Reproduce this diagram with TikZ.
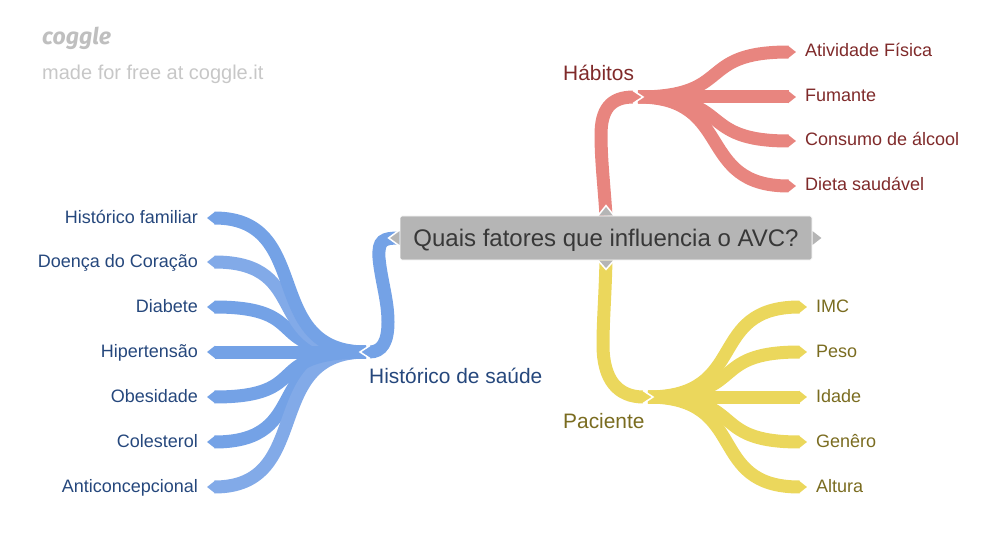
\documentclass[tikz,border=0pt]{standalone}
\usepackage{fontspec}
\setmainfont{Liberation Sans}
\newfontfamily\logofont{Fira Sans}
\usetikzlibrary{arrows.meta}
\usetikzlibrary{backgrounds}
\definecolor{azul}{HTML}{74A2E6}
\definecolor{azulC}{HTML}{82AAE8}
\definecolor{verm}{HTML}{E8857F}
\definecolor{amar}{HTML}{EBD75C}
\definecolor{azulT}{HTML}{25477C}
\definecolor{vermT}{HTML}{7F2A2A}
\definecolor{amarT}{HTML}{7A6C20}
\begin{document}
\begin{tikzpicture}[x=1pt,y=-1pt,
ramo/.style={line width=13pt,-{Triangle[width=12pt,length=8pt]}},
seta/.style={white,line width=1.5pt},
central/.style={fill=black!29,draw=white,line width=0.8pt,rounded corners=1.5pt,minimum width=412pt,minimum height=44pt,text=black!78,font=\fontsize{24}{28}\selectfont,inner sep=0pt,text height=20pt,text depth=4pt},
ponta/.style={fill=black!29,draw=white,line width=1.5pt},
titulo/.style={font=\fontsize{20.9}{24}\selectfont,inner sep=0pt},
folhaE/.style={text=azulT,font=\fontsize{18}{20}\selectfont,anchor=east,inner ysep=0pt,inner xsep=0pt,outer xsep=9pt,text height=13pt,text depth=3pt},
folhaD/.style={font=\fontsize{18}{20}\selectfont,anchor=west,inner ysep=0pt,inner xsep=0pt,outer xsep=9pt,text height=13pt,text depth=3pt}
]
\useasboundingbox (0,0) rectangle (1000,545);
%-- logo
\node[anchor=west,inner sep=0pt,text=black!25,font=\logofont\itshape\bfseries\fontsize{23}{28}\selectfont] (logo) at (42,38){coggle};
\node[anchor=west,inner sep=0pt,text=black!22,font=\fontsize{20}{24}\selectfont] (free) at (42,74){made for free at coggle.it};
%-- centro
\node[central] (qc) at (606,238){Quais fatores que influencia o AVC?};
\coordinate (hubS) at (366,352);
\coordinate (hubH) at (638,97);
\coordinate (hubP) at (648,397);
\coordinate (pontaS) at (362,352);
\coordinate (pontaH) at (641,97);
\coordinate (pontaP) at (651,397);
%-- historico de saude
\node[titulo,text=azulT,anchor=west] (hs) at (369,376){Histórico de saúde};
\node[folhaE] (hf) at (207,218){Histórico familiar};
\node[folhaE] (dc) at (207,262){Doença do Coração};
\node[folhaE] (di) at (207,307){Diabete};
\node[folhaE] (hi) at (207,352){Hipertensão};
\node[folhaE] (ob) at (207,397){Obesidade};
\node[folhaE] (co) at (207,442){Colesterol};
\node[folhaE] (an) at (207,487){Anticoncepcional};
%-- habitos
\node[titulo,text=vermT,anchor=west] (hb) at (563,73){Hábitos};
\node[folhaD,text=vermT] (af) at (796,52){Atividade Física};
\node[folhaD,text=vermT] (fu) at (796,97){Fumante};
\node[folhaD,text=vermT] (ca) at (796,141){Consumo de álcool};
\node[folhaD,text=vermT] (ds) at (796,186){Dieta saudável};
%-- paciente
\node[titulo,text=amarT,anchor=west] (pa) at (563,421){Paciente};
\node[folhaD,text=amarT] (im) at (807,307){IMC};
\node[folhaD,text=amarT] (pe) at (807,352){Peso};
\node[folhaD,text=amarT] (id) at (807,397){Idade};
\node[folhaD,text=amarT] (ge) at (807,442){Genêro};
\node[folhaD,text=amarT] (al) at (807,487){Altura};
\begin{scope}[on background layer]
%--
\draw[ramo,azul] (hubS) .. controls (260,352) and (315,442) .. (co.east);
\draw[ramo,azulC] (hubS) .. controls (260,352) and (315,487) .. (an.east);
\draw[ramo,azul] (hubS) .. controls (260,352) and (315,397) .. (ob.east);
\draw[ramo,azul] (hubS) .. controls (260,352) and (315,307) .. (di.east);
\draw[ramo,azulC] (hubS) .. controls (260,352) and (315,262) .. (dc.east);
\draw[ramo,azul] (hubS) .. controls (260,352) and (315,218) .. (hf.east);
\draw[ramo,azul] (hubS) -- (hi.east);
\draw[ramo,azul] (qc.west) .. controls (383,238) and (378,240) .. (379,258) .. controls (381,280) and (388,300) .. (388,322) .. controls (388,342) and (382,352) .. (pontaS);
\draw[seta] ([shift={(8,-6.5)}]pontaS) -- ([xshift=-2pt]pontaS) -- ([shift={(8,6.5)}]pontaS);
%--
\draw[ramo,verm] (hubH) .. controls (735,97) and (695,52) .. (af.west);
\draw[ramo,verm] (hubH) -- (fu.west);
\draw[ramo,verm] (hubH) .. controls (735,97) and (695,141) .. (ca.west);
\draw[ramo,verm] (hubH) .. controls (735,97) and (695,186) .. (ds.west);
\draw[ramo,verm] (qc.north) .. controls (604,185) and (601,160) .. (601,135) .. controls (601,110) and (610,97) .. (pontaH);
\draw[seta] ([shift={(-8,-6.5)}]pontaH) -- ([xshift=2pt]pontaH) -- ([shift={(-8,6.5)}]pontaH);
%--
\draw[ramo,amar] (hubP) .. controls (750,397) and (705,307) .. (im.west);
\draw[ramo,amar] (hubP) .. controls (750,397) and (705,352) .. (pe.west);
\draw[ramo,amar] (hubP) -- (id.west);
\draw[ramo,amar] (hubP) .. controls (750,397) and (705,442) .. (ge.west);
\draw[ramo,amar] (hubP) .. controls (750,397) and (705,487) .. (al.west);
\draw[ramo,amar] (qc.south) .. controls (605,300) and (603,320) .. (603,345) .. controls (603,380) and (618,397) .. (pontaP);
\draw[seta] ([shift={(-8,-6.5)}]pontaP) -- ([xshift=2pt]pontaP) -- ([shift={(-8,6.5)}]pontaP);
%-- pontas do centro
\filldraw[ponta] ([xshift=-8pt]qc.north) -- ([yshift=10pt]qc.north) -- ([xshift=8pt]qc.north);
\filldraw[ponta] ([xshift=-8pt]qc.south) -- ([yshift=-9pt]qc.south) -- ([xshift=8pt]qc.south);
\filldraw[ponta] ([yshift=8pt]qc.west) -- ([xshift=-11pt]qc.west) -- ([yshift=-8pt]qc.west);
\fill[black!29] ([yshift=7pt]qc.east) -- ([xshift=9pt]qc.east) -- ([yshift=-7pt]qc.east) -- cycle;
\end{scope}
\end{tikzpicture}
\end{document}
